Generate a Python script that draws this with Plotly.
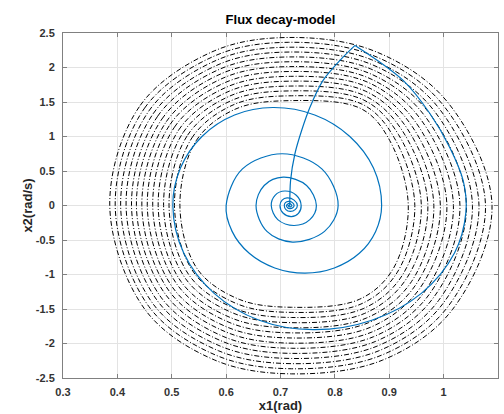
import plotly.graph_objects as go

# ---------------- data ----------------
x_ticks = [0.3, 0.4, 0.5, 0.6, 0.7, 0.8, 0.9, 1.0, 1.1]
x_tick_text = ["0.3", "0.4", "0.5", "0.6", "0.7", "0.8", "0.9", "1", "1.1"]
y_ticks = [-2.5, -2, -1.5, -1, -0.5, 0, 0.5, 1, 1.5, 2, 2.5]
y_tick_text = ["-2.5", "-2", "-1.5", "-1", "-0.5", "0", "0.5", "1", "1.5", "2", "2.5"]

# fault-on trajectory (from equilibrium up to clearing point)
fault_x1 = [0.717, 0.7185, 0.7265, 0.739, 0.754, 0.778, 0.809, 0.837]
fault_x2 = [0.0, 0.36, 0.75, 1.09, 1.42, 1.81, 2.10, 2.32]

# post-fault trajectory (damped spiral back to equilibrium)
post_x1 = [0.837, 0.926, 0.975, 1.011, 1.036, 1.041,
           1.020, 0.959, 0.868, 0.760, 0.661, 0.578, 0.522, 0.502,
           0.516, 0.556, 0.6155, 0.686, 0.763, 0.827, 0.871, 0.886,
           0.875, 0.845, 0.799, 0.745, 0.6895, 0.6425, 0.611, 0.600,
           0.630, 0.703, 0.776, 0.806, 0.781, 0.722, 0.675, 0.655,
           0.670, 0.705, 0.748, 0.766, 0.754, 0.725, 0.695, 0.683,
           0.690, 0.708, 0.729, 0.738, 0.733, 0.720, 0.705, 0.699,
           0.703, 0.712, 0.725, 0.731, 0.727, 0.718, 0.710, 0.707,
           0.709, 0.715, 0.722, 0.725, 0.7225, 0.717, 0.713, 0.711,
           0.716, 0.721, 0.717, 0.714, 0.7172]
post_x2 = [2.32, 1.81, 1.33, 0.845, 0.36, -0.10,
           -0.689, -1.273, -1.663, -1.80, -1.663, -1.273, -0.689, 0.0,
           0.543, 1.004, 1.312, 1.42, 1.312, 1.004, 0.543, 0.0,
           -0.375, -0.693, -0.905, -0.98, -0.905, -0.693, -0.375, 0.0,
           0.53, 0.75, 0.53, 0.0, -0.375, -0.53, -0.375, 0.0,
           0.29, 0.41, 0.29, 0.0, -0.205, -0.29, -0.205, 0.0,
           0.148, 0.21, 0.148, 0.0, -0.113, -0.16, -0.113, 0.0,
           0.078, 0.11, 0.078, 0.0, -0.060, -0.085, -0.060, 0.0,
           0.042, 0.06, 0.042, 0.0, -0.032, -0.045, -0.032, 0.0,
           0.03, 0.0, -0.02, 0.0, 0.003]

# closed orbits: 12 anchor positions around each orbit,
# each list holds that anchor for the 14 orbits (innermost -> outermost)
orbit_anchor_x1 = [
    [0.515, 0.505, 0.495, 0.485, 0.475, 0.465, 0.455, 0.445, 0.435, 0.426, 0.416, 0.406, 0.396, 0.386],
    [0.545, 0.537, 0.529, 0.521, 0.513, 0.505, 0.497, 0.490, 0.482, 0.474, 0.466, 0.458, 0.450, 0.442],
    [0.618, 0.615, 0.612, 0.609, 0.606, 0.603, 0.600, 0.596, 0.593, 0.590, 0.587, 0.584, 0.581, 0.578],
    [0.720, 0.720, 0.719, 0.719, 0.718, 0.718, 0.718, 0.717, 0.717, 0.717, 0.716, 0.716, 0.715, 0.715],
    [0.849, 0.851, 0.853, 0.854, 0.856, 0.858, 0.860, 0.861, 0.863, 0.865, 0.867, 0.868, 0.870, 0.872],
    [0.901, 0.909, 0.917, 0.925, 0.933, 0.941, 0.949, 0.958, 0.966, 0.974, 0.982, 0.990, 0.998, 1.006],
    [0.935, 0.947, 0.959, 0.971, 0.982, 0.994, 1.006, 1.018, 1.030, 1.042, 1.053, 1.065, 1.077, 1.089],
    [0.907, 0.915, 0.924, 0.932, 0.941, 0.949, 0.957, 0.966, 0.974, 0.982, 0.991, 0.999, 1.008, 1.016],
    [0.845, 0.848, 0.852, 0.855, 0.858, 0.862, 0.865, 0.868, 0.871, 0.875, 0.878, 0.881, 0.885, 0.888],
    [0.720, 0.720, 0.720, 0.720, 0.720, 0.720, 0.720, 0.720, 0.720, 0.720, 0.720, 0.720, 0.720, 0.720],
    [0.624, 0.621, 0.617, 0.614, 0.610, 0.607, 0.603, 0.600, 0.596, 0.593, 0.589, 0.586, 0.582, 0.579],
    [0.547, 0.540, 0.532, 0.525, 0.517, 0.510, 0.502, 0.495, 0.488, 0.480, 0.473, 0.465, 0.458, 0.451],
]
orbit_anchor_x2 = [
    [0.0, 0.0, 0.0, 0.0, 0.0, 0.0, 0.0, 0.0, 0.0, 0.0, 0.0, 0.0, 0.0, 0.0],
    [0.940, 0.979, 1.018, 1.058, 1.097, 1.136, 1.175, 1.215, 1.254, 1.293, 1.332, 1.371, 1.411, 1.450],
    [1.400, 1.465, 1.529, 1.594, 1.658, 1.723, 1.788, 1.852, 1.917, 1.982, 2.046, 2.111, 2.175, 2.240],
    [1.520, 1.590, 1.661, 1.731, 1.802, 1.872, 1.942, 2.013, 2.083, 2.153, 2.224, 2.294, 2.365, 2.435],
    [1.400, 1.465, 1.529, 1.594, 1.658, 1.723, 1.788, 1.852, 1.917, 1.982, 2.046, 2.111, 2.175, 2.240],
    [0.940, 0.984, 1.028, 1.072, 1.115, 1.159, 1.203, 1.247, 1.291, 1.335, 1.378, 1.422, 1.466, 1.510],
    [0.0, 0.0, 0.0, 0.0, 0.0, 0.0, 0.0, 0.0, 0.0, 0.0, 0.0, 0.0, 0.0, 0.0],
    [-0.920, -0.965, -1.011, -1.056, -1.102, -1.147, -1.192, -1.238, -1.283, -1.328, -1.374, -1.419, -1.465, -1.510],
    [-1.360, -1.428, -1.495, -1.563, -1.631, -1.698, -1.766, -1.834, -1.902, -1.969, -2.037, -2.105, -2.172, -2.240],
    [-1.475, -1.549, -1.623, -1.698, -1.772, -1.846, -1.920, -1.995, -2.069, -2.143, -2.217, -2.292, -2.366, -2.440],
    [-1.360, -1.428, -1.495, -1.563, -1.631, -1.698, -1.766, -1.834, -1.902, -1.969, -2.037, -2.105, -2.172, -2.240],
    [-0.920, -0.965, -1.011, -1.056, -1.102, -1.147, -1.192, -1.238, -1.283, -1.328, -1.374, -1.419, -1.465, -1.510],
]

# ---------------- figure ----------------
FONT = "Liberation Sans, Arial, Helvetica, sans-serif"
fig = go.Figure()

n_orbits = len(orbit_anchor_x1[0])
for j in range(n_orbits):
    xs = [col[j] for col in orbit_anchor_x1]
    ys = [col[j] for col in orbit_anchor_x2]
    xs.append(xs[0])
    ys.append(ys[0])
    fig.add_trace(go.Scatter(
        x=xs, y=ys, mode="lines",
        line=dict(color="black", width=1, dash="5px,2px,1px,2px",
                  shape="spline", smoothing=1.0),
        hoverinfo="skip", showlegend=False))

fig.add_trace(go.Scatter(
    x=fault_x1, y=fault_x2, mode="lines",
    line=dict(color="#0072BD", width=1.2, shape="spline", smoothing=0.8),
    showlegend=False))
fig.add_trace(go.Scatter(
    x=post_x1, y=post_x2, mode="lines",
    line=dict(color="#0072BD", width=1.2, shape="spline", smoothing=1.0),
    showlegend=False))

axis_common = dict(
    showgrid=True, gridcolor="#e3e3e3", gridwidth=1,
    zeroline=False,
    showline=True, linecolor="#808080", linewidth=1, mirror="ticks",
    ticks="inside", ticklen=4, tickcolor="#808080",
    tickfont=dict(family=FONT, size=11, color="#333333", weight="bold"),
    automargin=False,
)

fig.update_layout(
    width=504, height=414,
    margin=dict(l=63, r=6, t=33, b=36),
    paper_bgcolor="white", plot_bgcolor="white",
    title=dict(text="Flux decay-model", x=0.5, xref="paper", xanchor="center",
               y=1 - 19 / 414, yref="container", yanchor="middle",
               font=dict(family=FONT, size=13, color="black", weight="bold")),
    xaxis=dict(range=[0.3, 1.1], tickvals=x_ticks, ticktext=x_tick_text,
               ticklabelstandoff=4,
               title=dict(text="x1(rad)", standoff=2,
                          font=dict(family=FONT, size=13, color="#262626", weight="bold")),
               **axis_common),
    yaxis=dict(range=[-2.5, 2.5], tickvals=y_ticks, ticktext=y_tick_text,
               ticklabelstandoff=5,
               title=dict(text="x2(rad/s)", standoff=0,
                          font=dict(family=FONT, size=13, color="#262626", weight="bold")),
               **axis_common),
)

fig.write_html("out.html", config={"displayModeBar": False})
